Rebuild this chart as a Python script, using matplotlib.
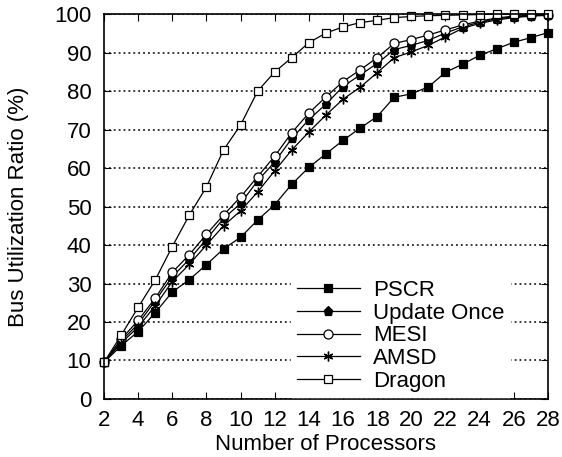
import matplotlib

matplotlib.use("Agg")

import matplotlib.pyplot as plt

plt.rcParams["font.family"] = ["Liberation Sans", "DejaVu Sans"]

processors = list(range(2, 29))
pscr = [9.5, 13.8, 17.5, 22.4, 27.8, 31.0, 34.9, 39.0, 42.0, 46.5, 50.5, 55.8, 60.2, 63.7,
        67.2, 70.4, 73.4, 78.4, 79.3, 81.1, 84.9, 87.0, 89.3, 91.0, 92.7, 93.9, 95.2]
update_once = [9.5, 15.0, 19.5, 25.5, 31.8, 36.3, 41.5, 46.9, 50.8, 56.7, 61.6, 67.7, 72.6, 76.6,
               81.2, 84.2, 87.2, 90.8, 91.9, 93.2, 95.1, 96.7, 97.9, 98.8, 99.3, 99.6, 99.8]
mesi = [9.5, 15.5, 20.4, 26.2, 32.9, 37.5, 42.8, 47.8, 52.5, 57.8, 63.1, 69.2, 74.3, 78.5,
        82.5, 85.5, 88.7, 92.4, 93.4, 94.6, 95.9, 97.2, 98.2, 99.0, 99.5, 99.7, 99.9]
amsd = [9.5, 14.5, 18.7, 24.2, 30.5, 35.0, 40.0, 45.0, 48.9, 53.8, 59.3, 64.7, 69.4, 73.8,
        77.9, 81.0, 84.8, 88.7, 90.2, 91.9, 94.1, 96.3, 97.6, 98.5, 99.1, 99.5, 99.7]
dragon = [9.5, 16.5, 23.8, 30.9, 39.6, 47.8, 55.1, 64.7, 71.2, 80.0, 85.0, 88.7, 92.6, 95.1,
          96.7, 97.8, 98.4, 99.1, 99.4, 99.6, 99.7, 99.8, 99.9, 100.0, 100.0, 100.0, 100.0]

fig = plt.figure(figsize=(5.62, 4.57), dpi=100)
ax = fig.add_axes([0.185, 0.127, 0.79, 0.842])

series = [
    ("PSCR", pscr, dict(marker="s", markersize=6, markerfacecolor="black")),
    ("Update Once", update_once, dict(marker="p", markersize=6.5, markerfacecolor="black")),
    ("MESI", mesi, dict(marker="o", markersize=6.5, markerfacecolor="white")),
    ("AMSD", amsd, dict(marker=(6, 2, 0), markersize=7, markeredgewidth=1.0)),
    ("Dragon", dragon, dict(marker="s", markersize=6, markerfacecolor="white")),
]
for name, ys, style in series:
    ax.plot(processors, ys, color="black", linewidth=0.9, markeredgecolor="black",
            markeredgewidth=style.pop("markeredgewidth", 0.9), label=name, clip_on=False,
            zorder=3, **style)

ax.set_xlim(2, 28)
ax.set_ylim(0, 100)
ax.set_xticks(range(2, 29, 2))
ax.set_yticks(range(0, 101, 10))
ax.tick_params(direction="in", top=True, right=True, labelsize=16, length=5)
ax.tick_params(axis="x", pad=8)
ax.tick_params(axis="y", pad=9)
for s in ax.spines.values():
    s.set_linewidth(1.2)
    s.set_zorder(4)
ax.yaxis.grid(True, linestyle=(0, (1.2, 2.0)), color="black", linewidth=1.1)
ax.set_axisbelow(True)

ax.set_xlabel("Number of Processors", fontsize=16, labelpad=2)
ax.set_ylabel("Bus Utilization Ratio (%)", fontsize=16, labelpad=18)

leg = ax.legend(loc="lower right", bbox_to_anchor=(0.94, -0.025), fontsize=16, handlelength=2.85,
                labelspacing=0.08, borderpad=0.25, handletextpad=0.6, fancybox=False)
leg.get_frame().set_edgecolor("white")
leg.get_frame().set_facecolor("white")
leg.get_frame().set_alpha(1.0)
leg.set_zorder(5)

fig.savefig("out.png", dpi=100)
